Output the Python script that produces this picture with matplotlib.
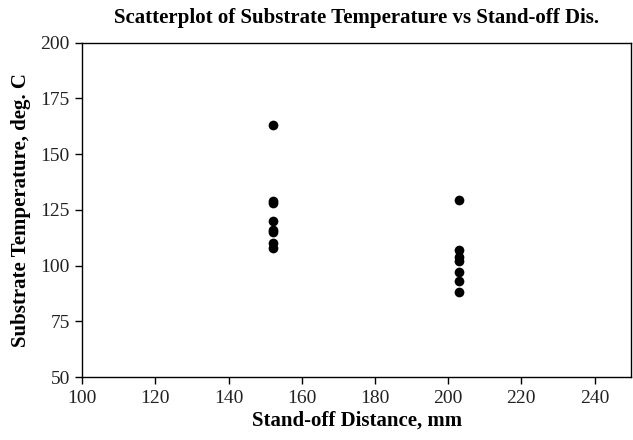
import matplotlib
matplotlib.use("Agg")
import matplotlib.pyplot as plt

plt.rcParams.update({
    "font.family": "Liberation Serif",
    "font.size": 14,
})

# stand-off distance (mm) and substrate temperature (deg C)
distance_152 = [152] * 8
temp_152 = [163, 129, 128, 120, 116, 115, 110, 108]
distance_203 = [203] * 7
temp_203 = [129.5, 107, 104, 102, 97, 93, 88]

x_ticks = [100, 120, 140, 160, 180, 200, 220, 240]
y_ticks = [50, 75, 100, 125, 150, 175, 200]

fig = plt.figure(figsize=(6.33, 4.4), dpi=100)
ax = fig.add_axes([0.13, 0.143, 0.867, 0.76])

ax.plot(distance_152 + distance_203, temp_152 + temp_203, "o",
        color="black", markersize=7, markeredgewidth=0)

ax.set_xlim(100, 250)
ax.set_ylim(50, 200)
ax.set_xticks(x_ticks)
ax.set_yticks(y_ticks)
ax.tick_params(direction="out", length=5, width=1, labelsize=14, pad=4,
               labelcolor="#222222")
for s in ax.spines.values():
    s.set_linewidth(1)

ax.set_title("Scatterplot of Substrate Temperature vs Stand-off Dis.",
             fontsize=15, fontweight="bold", pad=14)
ax.set_xlabel("Stand-off Distance, mm", fontsize=15, fontweight="bold", labelpad=3)
ax.set_ylabel("Substrate Temperature, deg. C", fontsize=15, fontweight="bold", labelpad=7)

fig.savefig("out.png", dpi=100)
